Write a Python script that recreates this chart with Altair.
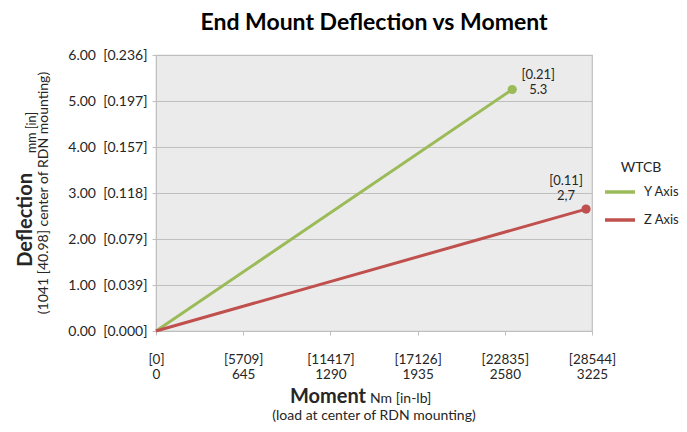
import altair as alt
import pandas as pd

# ---- data ----
series = ["Y Axis", "Y Axis", "Z Axis", "Z Axis"]
moment = [0, 2635, 0, 3181]
deflection = [0, 5.25, 0, 2.65]

label_series = ["Y Axis", "Z Axis"]
label_moment = [2635, 3181]
label_defl = [5.25, 2.65]
label_text = ["[0.21]\n5.3", "[0.11]\n2,7"]

x_ticks = [0, 645, 1290, 1935, 2580, 3225]
x_tick_inlb = ["[0]", "[5709]", "[11417]", "[17126]", "[22835]", "[28544]"]
x_tick_nm = ["0", "645", "1290", "1935", "2580", "3225"]

y_ticks = [0, 1, 2, 3, 4, 5, 6]
y_tick_mm = ["0.00", "1.00", "2.00", "3.00", "4.00", "5.00", "6.00"]
y_tick_in = ["[0.000]", "[0.039]", "[0.079]", "[0.118]", "[0.157]", "[0.197]", "[0.236]"]

colors = ["#9bbb59", "#c0504d"]
FONT = "Lato"
TXT = "#262626"
NB = "\u00a0"

df = pd.DataFrame({"series": series, "moment": moment, "deflection": deflection})
df_pts = df[df["moment"] > 0]
df_lab = pd.DataFrame({"series": label_series, "moment": label_moment,
                       "deflection": label_defl, "label": label_text})

# label expressions built from the lists
x_expr = ""
for v, a, b in zip(x_ticks, x_tick_inlb, x_tick_nm):
    x_expr += f"datum.value == {v} ? ['{a}', '{b}'] : "
x_expr += "''"
y_expr = ""
for v, a, b in zip(y_ticks, y_tick_mm, y_tick_in):
    y_expr += f"datum.value == {v} ? '{a}{NB}{NB}{b}' : "
y_expr += "''"

xs = alt.Scale(domain=[0, 3225], nice=False, zero=True)
ys = alt.Scale(domain=[0, 6], nice=False)
cs = alt.Scale(domain=["Y Axis", "Z Axis"], range=colors)

x_enc = alt.X("moment:Q", scale=xs, axis=alt.Axis(
    values=x_ticks, labelExpr=x_expr, title=None, grid=False,
    labelFont=FONT, labelFontSize=13.5, labelColor=TXT, labelPadding=17,
    labelLineHeight=15, tickSize=4, tickColor="#bfbfbf", domainColor="#bfbfbf",
    labelFlush=False, labelOverlap=False))
y_enc = alt.Y("deflection:Q", scale=ys, axis=alt.Axis(
    values=y_ticks, labelExpr=y_expr, title=None, grid=True, gridColor="#bfbfbf",
    gridWidth=1.2, labelFont=FONT, labelFontSize=14, labelColor=TXT, labelPadding=5,
    tickSize=4, tickColor="#bfbfbf", domainColor="#bfbfbf"))

lines = alt.Chart(df).mark_line(strokeWidth=3).encode(
    x=x_enc, y=y_enc,
    color=alt.Color("series:N", scale=cs, legend=alt.Legend(
        title="WTCB", orient="none", legendX=447, legendY=106,
        symbolType="stroke", symbolSize=900, symbolStrokeWidth=3.5,
        labelFont=FONT, labelFontSize=13, labelColor=TXT, labelOffset=7,
        titleFont=FONT, titleFontSize=14, titleFontWeight="normal", titleColor=TXT,
        titleAnchor="middle", titleAlign="center", rowPadding=4, titlePadding=0)))

pts = alt.Chart(df_pts).mark_circle(size=85, opacity=1).encode(
    x="moment:Q", y="deflection:Q", color=alt.Color("series:N", scale=cs, legend=None))

lab_y = alt.Chart(df_lab[df_lab["series"] == "Y Axis"]).mark_text(
    align="center", baseline="bottom", dx=26, dy=-8, lineBreak="\n",
    font=FONT, fontSize=13, color=TXT, lineHeight=15).encode(
    x="moment:Q", y="deflection:Q", text="label:N")
lab_z = alt.Chart(df_lab[df_lab["series"] == "Z Axis"]).mark_text(
    align="center", baseline="bottom", dx=-20, dy=-21, lineBreak="\n",
    font=FONT, fontSize=13, color=TXT, lineHeight=15).encode(
    x="moment:Q", y="deflection:Q", text="label:N")

# axis titles as text annotations
def txt(s, x, y, **kw):
    return alt.Chart(pd.DataFrame({"t": [s]})).mark_text(
        font=FONT, color=TXT, **kw).encode(
        x=alt.value(x), y=alt.value(y), text="t:N")

t1 = txt("Moment", 210, 348, align="right", baseline="alphabetic", fontSize=20, fontWeight="bold")
t2 = txt("Nm [in-lb]", 214, 348, align="left", baseline="alphabetic", fontSize=14)
t3 = txt("(load at center of RDN mounting)", 218, 364.5, align="center", baseline="alphabetic", fontSize=14)
t4 = txt("Deflection", -124, 118, align="right", baseline="alphabetic", fontSize=20,
         fontWeight="bold", angle=270)
t5 = txt("mm [in]", -120, 98, align="left", baseline="alphabetic", fontSize=12.5, angle=270)
t6 = txt("(1041 [40.98] center of RDN mounting)", -108, 138, align="center",
         baseline="alphabetic", fontSize=14, angle=270)

chart = alt.layer(lines, pts, lab_y, lab_z, t1, t2, t3, t4, t5, t6).properties(
    width=436, height=276,
    background="white",
    autosize=alt.AutoSizeParams(type="none"),
    padding={"left": 148, "top": 47, "right": 87, "bottom": 93},
    title=alt.TitleParams("End Mount Deflection vs Moment", font=FONT, fontSize=23,
                          fontWeight="bold", color="#000000", anchor="middle",
                          offset=13),
).configure_view(stroke="#bfbfbf", fill="#ebebeb", strokeWidth=1.2)

chart.save("out.html", embed_options={"renderer": "svg", "actions": False})
